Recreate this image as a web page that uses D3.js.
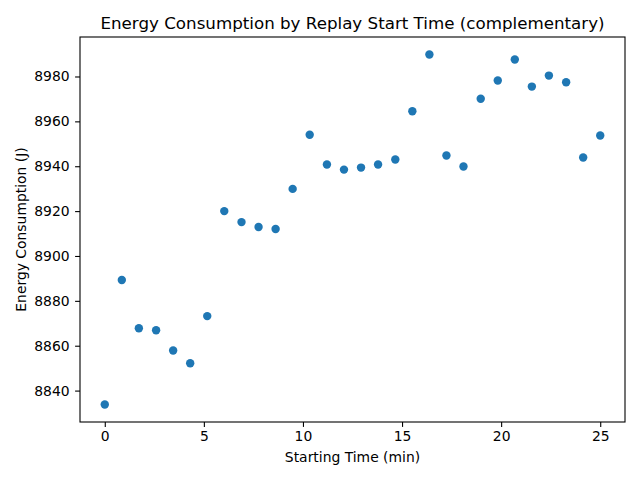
<!DOCTYPE html>
<html>
<head>
<meta charset="utf-8">
<script src="https://cdn.jsdelivr.net/npm/d3@7"></script>
<style>
  body { margin: 0; background: #fff; }
  text { font-family: "DejaVu Sans", sans-serif; fill: #000; }
</style>
</head>
<body>
<svg width="640" height="480"></svg>
<script>
// Starting times (min) of each replay
var startTimes = [0, 0.86, 1.72, 2.59, 3.45, 4.31, 5.17, 6.03, 6.90, 7.76,
    8.62, 9.48, 10.34, 11.21, 12.07, 12.93, 13.79, 14.66, 15.52, 16.38,
    17.24, 18.10, 18.97, 19.83, 20.69, 21.55, 22.41, 23.28, 24.14, 25];

// Energy consumption (J)
var energy = [8833.8, 8889.3, 8867.8, 8866.9, 8857.9, 8852.2, 8873.2, 8920.0, 8915.1, 8912.9,
    8912.0, 8929.9, 8954.0, 8940.8, 8938.5, 8939.4, 8940.8, 8943.0, 8964.5, 8989.8,
    8944.8, 8939.9, 8970.1, 8978.2, 8987.6, 8975.5, 8980.4, 8977.4, 8943.9, 8953.7];

var xTicks = [0, 5, 10, 15, 20, 25];
var yTicks = [8840, 8860, 8880, 8900, 8920, 8940, 8960, 8980];

var chartTitle = "Energy Consumption by Replay Start Time (complementary)";
var xTitle = "Starting Time (min)";
var yTitle = "Energy Consumption (J)";

var svg = d3.select("svg");
// plot box (window.top is reserved, so prefix the names)
var boxLeft = 80, boxRight = 625, boxTop = 37, boxBottom = 422;

// matplotlib-style 5% margins around the data
function pad(ext) {
    var d = (ext[1] - ext[0]) * 0.05;
    return [ext[0] - d, ext[1] + d];
}

var x = d3.scaleLinear().domain(pad(d3.extent(startTimes))).range([boxLeft, boxRight]);
var y = d3.scaleLinear().domain(pad(d3.extent(energy))).range([boxBottom, boxTop]);

var points = startTimes.map(function(t, i) { return {t: t, e: energy[i]}; });

svg.append("g")
    .selectAll("circle")
    .data(points)
    .enter().append("circle")
    .attr("cx", function(d) { return x(d.t); })
    .attr("cy", function(d) { return y(d.e); })
    .attr("r", 4.2)
    .attr("fill", "#1f77b4");

// frame
svg.append("rect")
    .attr("x", boxLeft)
    .attr("y", boxTop)
    .attr("width", boxRight - boxLeft)
    .attr("height", boxBottom - boxTop)
    .attr("fill", "none")
    .attr("stroke", "#000")
    .attr("stroke-width", 1.1);

var xAxis = svg.append("g")
    .attr("transform", "translate(0," + boxBottom + ")")
    .call(d3.axisBottom(x).tickValues(xTicks).tickSize(4.9).tickPadding(4.5).tickFormat(d3.format("d")));

var yAxis = svg.append("g")
    .attr("transform", "translate(" + boxLeft + ",0)")
    .call(d3.axisLeft(y).tickValues(yTicks).tickSize(4.9).tickPadding(5.5).tickFormat(d3.format("d")));

[xAxis, yAxis].forEach(function(a) {
    a.select(".domain").remove();
    a.selectAll(".tick line").attr("stroke", "#000").attr("stroke-width", 1.1);
    a.selectAll(".tick text")
        .attr("font-family", "DejaVu Sans")
        .attr("font-size", "13.9px")
        .attr("fill", "#000");
});

svg.append("text")
    .attr("x", (boxLeft + boxRight) / 2)
    .attr("y", 29)
    .attr("text-anchor", "middle")
    .attr("font-size", "16.7px")
    .text(chartTitle);

svg.append("text")
    .attr("x", (boxLeft + boxRight) / 2)
    .attr("y", 462)
    .attr("text-anchor", "middle")
    .attr("font-size", "13.9px")
    .text(xTitle);

svg.append("text")
    .attr("transform", "translate(26," + (boxTop + boxBottom) / 2 + ") rotate(-90)")
    .attr("text-anchor", "middle")
    .attr("font-size", "13.9px")
    .text(yTitle);
</script>
</body>
</html>
